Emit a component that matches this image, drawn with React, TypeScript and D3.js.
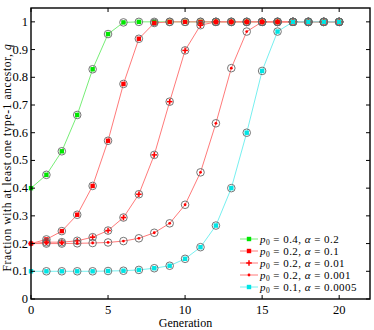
import React from 'react';
import * as d3 from 'd3';

const WIDTH = 374;
const HEIGHT = 330;
const MARGIN = { top: 8, right: 4, bottom: 31, left: 31 };

const generations = d3.range(0, 21);

const greenP04 = [0.4, 0.448, 0.533, 0.664, 0.829, 0.956, 0.998, 1, 1, 1, 1, 1, 1, 1, 1, 1, 1, 1, 1, 1, 1];
const redA01 = [0.2, 0.215, 0.245, 0.304, 0.408, 0.571, 0.776, 0.939, 0.996, 1, 1, 1, 1, 1, 1, 1, 1, 1, 1, 1, 1];
const redA001 = [0.2, 0.205, 0.205, 0.21, 0.223, 0.247, 0.294, 0.378, 0.52, 0.712, 0.897, 0.988, 1, 1, 1, 1, 1, 1, 1, 1, 1];
const redA0001 = [0.2, 0.2, 0.2, 0.201, 0.202, 0.204, 0.209, 0.219, 0.239, 0.273, 0.34, 0.457, 0.634, 0.833, 0.965, 1, 1, 1, 1, 1, 1];
const cyanA00005 = [0.1, 0.1, 0.1, 0.1, 0.1, 0.101, 0.102, 0.105, 0.111, 0.12, 0.145, 0.187, 0.265, 0.4, 0.6, 0.823, 0.965, 1, 1, 1, 1];

const series = [
  { p0: '0.4', alpha: '0.2', values: greenP04, color: '#00e600', line: '#77ee77', marker: 'square' },
  { p0: '0.2', alpha: '0.1', values: redA01, color: '#ff0000', line: '#ff7a7a', marker: 'square' },
  { p0: '0.2', alpha: '0.01', values: redA001, color: '#ff0000', line: '#ff7a7a', marker: 'plus' },
  { p0: '0.2', alpha: '0.001', values: redA0001, color: '#ff0000', line: '#ff7a7a', marker: 'dot' },
  { p0: '0.1', alpha: '0.0005', values: cyanA00005, color: '#00e5e5', line: '#77f0f0', marker: 'square' },
];

const xTicks = [0, 5, 10, 15, 20];
const yTicks = d3.range(0, 11).map((i) => i / 10);

const FONT = '"Liberation Serif", "DejaVu Serif", serif';

const Marker = ({ kind, x, y, color }) => {
  if (kind === 'square') return <rect x={x - 2.2} y={y - 2.2} width={4.4} height={4.4} fill={color} />;
  if (kind === 'plus')
    return (
      <g stroke={color} strokeWidth={1.5}>
        <line x1={x - 2.8} x2={x + 2.8} y1={y} y2={y} />
        <line x1={x} x2={x} y1={y - 2.8} y2={y + 2.8} />
      </g>
    );
  return <circle cx={x} cy={y} r={1.4} fill={color} />;
};

const App = () => {
  const boundsWidth = WIDTH - MARGIN.left - MARGIN.right;
  const boundsHeight = HEIGHT - MARGIN.top - MARGIN.bottom;

  const xScale = d3.scaleLinear().domain([0, 22]).range([0, boundsWidth]);
  const yScale = d3.scaleLinear().domain([0, 1.05]).range([boundsHeight, 0]);

  const lineGen = d3
    .line<number>()
    .x((_, i) => xScale(generations[i]))
    .y((d) => yScale(d));

  const legendX = 209;
  const legendY = 231;

  return (
    <div style={{ position: 'absolute', left: 0, top: 0 }}>
      <svg width={WIDTH} height={HEIGHT} style={{ display: 'block', background: '#fff' }} fontFamily={FONT}>
        <g transform={`translate(${MARGIN.left},${MARGIN.top})`}>
          {series.map((s, si) => (
            <path key={si} d={lineGen(s.values) ?? ''} fill="none" stroke={s.line} strokeWidth={1} />
          ))}
          {series.map((s, si) => (
            <g key={'c' + si}>
              {s.values.map((v, i) =>
                i === 0 ? null : (
                  <circle key={i} cx={xScale(generations[i])} cy={yScale(v)} r={3.8} fill="none" stroke="#666" strokeWidth={0.9} />
                )
              )}
              {s.values.map((v, i) => (
                <Marker key={i} kind={s.marker} x={xScale(generations[i])} y={yScale(v)} color={s.color} />
              ))}
            </g>
          ))}

          {/* frame */}
          <rect x={0} y={0} width={boundsWidth} height={boundsHeight} fill="none" stroke="#000" strokeWidth={1.4} />

          {xTicks.map((t) => (
            <g key={t}>
              <line x1={xScale(t)} x2={xScale(t)} y1={boundsHeight} y2={boundsHeight - 4} stroke="#000" />
              <line x1={xScale(t)} x2={xScale(t)} y1={0} y2={4} stroke="#000" />
              <text x={xScale(t)} y={boundsHeight + 15} textAnchor="middle" fontSize={12.5}>
                {t}
              </text>
            </g>
          ))}
          {yTicks.map((t) => (
            <g key={t}>
              <line x1={0} x2={4} y1={yScale(t)} y2={yScale(t)} stroke="#000" />
              <line x1={boundsWidth} x2={boundsWidth - 4} y1={yScale(t)} y2={yScale(t)} stroke="#000" />
              <text x={-3} y={yScale(t)} textAnchor="end" dominantBaseline="central" fontSize={12.5}>
                {t === 0 || t === 1 ? String(t) : t.toFixed(1)}
              </text>
            </g>
          ))}

          <text x={boundsWidth / 2 - 15} y={boundsHeight + 28} textAnchor="middle" fontSize={12}>
            Generation
          </text>
          <text
            transform={`translate(${-20},${boundsHeight / 2 + 4}) rotate(-90)`}
            textAnchor="middle"
            fontSize={11.5}
            letterSpacing={0.6}
          >
            Fraction with at least one type-1 ancestor, <tspan fontStyle="italic">q</tspan>
          </text>

          {/* legend */}
          {series.map((s, i) => {
            const y = legendY + i * 12;
            return (
              <g key={'l' + i}>
                <line x1={legendX} x2={legendX + 18} y1={y} y2={y} stroke={s.line} strokeWidth={1} />
                <Marker kind={s.marker} x={legendX + 9} y={y} color={s.color} />
                <text x={legendX + 20} y={y + 3.5} fontSize={11} letterSpacing={0.45}>
                  <tspan fontStyle="italic">p</tspan>
                  <tspan fontSize={7.5} dy={2}>0</tspan>
                  <tspan dy={-2}>{' = ' + s.p0 + ', '}</tspan>
                  <tspan fontStyle="italic">α</tspan>
                  <tspan>{' = ' + s.alpha}</tspan>
                </text>
              </g>
            );
          })}
        </g>
      </svg>
    </div>
  );
};

export default App;
